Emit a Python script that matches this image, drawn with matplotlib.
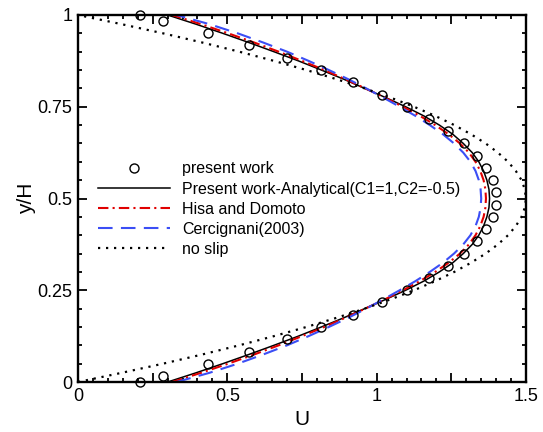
import matplotlib
matplotlib.use('Agg')
from matplotlib import pyplot as plt
from matplotlib.ticker import MultipleLocator, FixedLocator

plt.rcParams['font.family'] = ['Liberation Sans', 'DejaVu Sans']

# present work (symbols)
y_circ = [0.0, 0.017, 0.05, 0.083, 0.117, 0.15, 0.183, 0.217, 0.25, 0.283, 0.317,
          0.35, 0.383, 0.417, 0.45, 0.483, 0.517, 0.55, 0.583, 0.617, 0.65, 0.683,
          0.717, 0.75, 0.783, 0.817, 0.85, 0.883, 0.917, 0.95, 0.983, 1.0]
u_circ = [0.208, 0.286, 0.434, 0.573, 0.699, 0.815, 0.922, 1.019, 1.100, 1.176, 1.240,
          1.293, 1.336, 1.367, 1.389, 1.399, 1.399, 1.389, 1.367, 1.336, 1.293, 1.240,
          1.176, 1.100, 1.019, 0.922, 0.815, 0.699, 0.573, 0.434, 0.286, 0.208]

# y positions where the curves were read
y_line = [0.0, 0.025, 0.05, 0.075, 0.1, 0.125, 0.15, 0.175, 0.2, 0.225, 0.25,
          0.275, 0.3, 0.325, 0.35, 0.375, 0.4, 0.425, 0.45, 0.475, 0.5,
          0.525, 0.55, 0.575, 0.6, 0.625, 0.65, 0.675, 0.7, 0.725, 0.75,
          0.775, 0.8, 0.825, 0.85, 0.875, 0.9, 0.925, 0.95, 0.975, 1.0]

u_analytical = [0.300, 0.395, 0.485, 0.572, 0.656, 0.738, 0.815, 0.890, 0.960, 1.030, 1.097,
                1.158, 1.210, 1.255, 1.290, 1.320, 1.342, 1.358, 1.369, 1.376, 1.378,
                1.376, 1.369, 1.358, 1.342, 1.320, 1.290, 1.255, 1.210, 1.158, 1.097,
                1.030, 0.960, 0.890, 0.815, 0.738, 0.656, 0.572, 0.485, 0.395, 0.300]

u_hisa = [0.315, 0.412, 0.503, 0.590, 0.672, 0.750, 0.825, 0.895, 0.962, 1.027, 1.088,
          1.145, 1.196, 1.241, 1.279, 1.309, 1.331, 1.347, 1.358, 1.364, 1.366,
          1.364, 1.358, 1.347, 1.331, 1.309, 1.279, 1.241, 1.196, 1.145, 1.088,
          1.027, 0.962, 0.895, 0.825, 0.750, 0.672, 0.590, 0.503, 0.412, 0.315]

u_cerc = [0.330, 0.440, 0.535, 0.620, 0.700, 0.772, 0.840, 0.905, 0.965, 1.022, 1.077,
          1.130, 1.178, 1.222, 1.259, 1.290, 1.314, 1.331, 1.342, 1.348, 1.350,
          1.348, 1.342, 1.331, 1.314, 1.290, 1.259, 1.222, 1.178, 1.130, 1.077,
          1.022, 0.965, 0.905, 0.840, 0.772, 0.700, 0.620, 0.535, 0.440, 0.330]

u_noslip = [0.0, 0.146, 0.285, 0.416, 0.540, 0.656, 0.765, 0.866, 0.960, 1.046, 1.125,
            1.196, 1.260, 1.316, 1.365, 1.406, 1.440, 1.466, 1.485, 1.496, 1.500,
            1.496, 1.485, 1.466, 1.440, 1.406, 1.365, 1.316, 1.260, 1.196, 1.125,
            1.046, 0.960, 0.866, 0.765, 0.656, 0.540, 0.416, 0.285, 0.146, 0.0]

x_major = [0, 0.25, 0.5, 0.75, 1.0, 1.25, 1.5]
x_labels = ['0', '', '0.5', '', '1', '', '1.5']
y_major = [0, 0.25, 0.5, 0.75, 1.0]
y_labels = ['0', '0.25', '0.5', '0.75', '1']


fig = plt.figure(figsize=(5.43, 4.32), dpi=100)
ax = fig.add_axes([0.1436, 0.1157, 0.8251, 0.8496])

ax.plot(u_circ, y_circ, 'o', ms=6.5, mfc='none', mec='black', mew=1.0,
        clip_on=False, zorder=5, label='present work')
ax.plot(u_analytical, y_line, '-', color='black', lw=1.1,
        label='Present work-Analytical(C1=1,C2=-0.5)')
ax.plot(u_hisa, y_line, color='#e00000', lw=1.5, ls=(0, (5, 2, 1, 2)),
        label='Hisa and Domoto')
ax.plot(u_cerc, y_line, color='#3b4ef5', lw=1.5, ls=(0, (7, 4)),
        label='Cercignani(2003)')
ax.plot(u_noslip, y_line, color='black', lw=1.6, ls=(0, (1, 2.6)),
        label='no slip')

ax.set_xlim(0, 1.5)
ax.set_ylim(0, 1)
ax.xaxis.set_major_locator(FixedLocator(x_major))
ax.set_xticklabels(x_labels)
ax.xaxis.set_minor_locator(MultipleLocator(0.05))
ax.yaxis.set_major_locator(FixedLocator(y_major))
ax.set_yticklabels(y_labels)
ax.yaxis.set_minor_locator(MultipleLocator(0.05))
ax.tick_params(which='both', direction='in', top=True, right=True, labelsize=13, width=1.3)
ax.tick_params(which='major', length=6.5, pad=4)
ax.tick_params(which='minor', length=3.2)
for s in ax.spines.values():
    s.set_linewidth(1.7)

ax.set_xlabel('U', fontsize=15, labelpad=4)
ax.set_ylabel('y/H', fontsize=15, labelpad=1)

ax.legend(loc='center left', bbox_to_anchor=(0.044, 0.471), frameon=False,
          fontsize=11.5, numpoints=1, handlelength=4.5, handletextpad=0.8,
          labelspacing=0.32, borderpad=0, borderaxespad=0)

plt.savefig('out.png', dpi=100)
